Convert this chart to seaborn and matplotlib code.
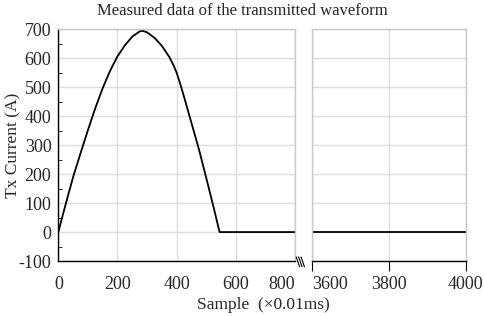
import matplotlib
matplotlib.use("Agg")
import matplotlib.pyplot as plt
import matplotlib.ticker as mticker
from matplotlib.lines import Line2D
import pandas as pd
import seaborn as sns

# Datos
muestra_izq = [0, 25, 50, 75, 100, 125, 150, 175, 200, 225, 250, 275, 285, 300,
               325, 350, 375, 390, 400, 412, 425, 450, 475, 500, 525, 545, 560, 800]
corriente_izq = [0, 97, 190, 272, 352, 428, 497, 557, 607, 645, 675, 693, 695, 690,
                 671, 643, 605, 575, 550, 512, 467, 377, 287, 187, 85, 0, 0, 0]
muestra_der = [3600, 3800, 4000]
corriente_der = [0, 0, 0]

ticks_izq = [0, 200, 400, 600, 800]
ticks_der = [3600, 3800, 4000]
ticks_y = [-100, 0, 100, 200, 300, 400, 500, 600, 700]

izq = pd.DataFrame({"muestra": muestra_izq, "corriente": corriente_izq})
der = pd.DataFrame({"muestra": muestra_der, "corriente": corriente_der})

sns.set_style("white")
plt.rcParams["font.family"] = ["Liberation Serif", "DejaVu Serif"]
plt.rcParams["axes.unicode_minus"] = False

fig = plt.figure(figsize=(4.84, 3.16), dpi=100)
ax1 = fig.add_axes([0.1205, 0.174, 0.489, 0.733])
ax2 = fig.add_axes([0.6446, 0.174, 0.318, 0.733], sharey=ax1)

sns.lineplot(data=izq, x="muestra", y="corriente", ax=ax1, color="black",
             linewidth=1.3, estimator=None)
sns.lineplot(data=der, x="muestra", y="corriente", ax=ax2, color="black",
             linewidth=1.3, estimator=None)

ax1.set_xlim(0, 800)
ax2.set_xlim(3600, 4000)
ax1.set_ylim(-100, 700)

gris = "#dcdcdc"
for ax in (ax1, ax2):
    ax.grid(True, color=gris, linewidth=1)
    ax.set_xlabel("")
    ax.set_ylabel("")
    for s in ("top", "right", "left"):
        ax.spines[s].set_color("#c8c8c8")
        ax.spines[s].set_linewidth(1)
    ax.spines["bottom"].set_color("black")
    ax.spines["bottom"].set_linewidth(1)
ax1.spines["left"].set_color("black")

# eje y
ax1.set_yticks(ticks_y)
ax1.yaxis.set_minor_locator(mticker.MultipleLocator(50))
ax1.tick_params(axis="y", which="major", length=0, labelsize=13, pad=5)
ax1.tick_params(axis="y", which="minor", left=True, length=3, direction="in",
                color="black")
ax2.tick_params(axis="y", which="both", left=False, labelleft=False)

# eje x
ax1.set_xticks(ticks_izq)
ax2.set_xticks(ticks_der)
ax1.tick_params(axis="x", length=0, labelsize=13, pad=11)
ax1.xaxis.set_minor_locator(mticker.FixedLocator([0, 800]))
ax1.tick_params(axis="x", which="minor", bottom=True, length=7, color="black")
ax2.tick_params(axis="x", bottom=True, length=7, labelsize=13, pad=4, color="black")
ax2.xaxis.set_minor_locator(mticker.FixedLocator([3600]))
ax2.tick_params(axis="x", which="minor", bottom=True, length=7, color="black")
ax1.get_xticklabels()[-1].set_ha("right")
ax2.get_xticklabels()[0].set_ha("left")

# marcas del corte
for dx in (0.0, 0.005, 0.010):
    fig.add_artist(Line2D([0.612 + dx, 0.619 + dx], [0.187, 0.156],
                          color="black", linewidth=0.8))

fig.text(0.5, 0.966, "Measured data of the transmitted waveform", ha="center",
         va="center", fontsize=12)
fig.text(0.545, 0.035, "Sample  (\u00d70.01ms)", ha="center", va="center",
         fontsize=12.5)
fig.text(0.028, 0.54, "Tx Current (A)", ha="center", va="center",
         rotation=90, fontsize=12.5)

fig.savefig("out.png", dpi=100)
